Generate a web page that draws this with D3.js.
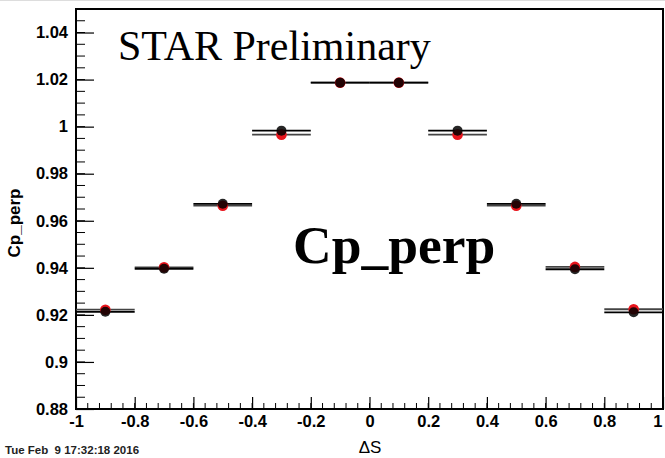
<!DOCTYPE html>
<html><head><meta charset="utf-8">
<script src="https://cdn.jsdelivr.net/npm/d3@7"></script>
<style>body{margin:0;background:#fff}svg{display:block}</style>
</head><body><svg id="c" width="665" height="458"></svg>
<script>
const binCenters = [-0.9,-0.7,-0.5,-0.3,-0.1,0.1,0.3,0.5,0.7,0.9];
const binHalfWidth = 0.1;
const redValues   = [0.9222,0.9402,0.9664,0.9966,1.0187,1.0187,0.9966,0.9664,0.9404,0.9224];
const blackValues = [0.9213,0.9396,0.9672,0.9983,1.0187,1.0187,0.9983,0.9672,0.9394,0.9211];
const xTicks = [-1,-0.8,-0.6,-0.4,-0.2,0,0.2,0.4,0.6,0.8,1];
const yTicks = [0.88,0.9,0.92,0.94,0.96,0.98,1,1.02,1.04];
const xDomain = [-1,1], yDomain = [0.88,1.05];

const svg = d3.select("#c");
const L=76,R=663,T=9,B=409;
const x = d3.scaleLinear().domain(xDomain).range([L,R]);
const y = d3.scaleLinear().domain(yDomain).range([B,T]);

svg.append("line").attr("x1",0).attr("x2",665).attr("y1",0.5).attr("y2",0.5).attr("stroke","#ddd");

const xMinor = d3.range(-1,1.0001,0.04);
const yMinor = d3.range(0.88,1.0501,0.005);
svg.append("g").selectAll("line").data(xMinor).join("line")
  .attr("x1",d=>x(d)).attr("x2",d=>x(d)).attr("y1",B).attr("y2",B-6).attr("stroke","#000").attr("stroke-width",1);
svg.append("g").selectAll("line").data(yMinor).join("line")
  .attr("x1",L).attr("x2",L+9).attr("y1",d=>y(d)).attr("y2",d=>y(d)).attr("stroke","#000").attr("stroke-width",1);

const fmt = d=> d===0?"0":String(+d.toFixed(2));
const xAxis = d3.axisBottom(x).tickValues(xTicks).tickSize(-12).tickPadding(4).tickFormat(fmt);
const gx = svg.append("g").attr("transform",`translate(0,${B})`).call(xAxis);
gx.select(".domain").remove();
gx.selectAll("line").attr("stroke","#000").attr("stroke-width",1.2);
gx.selectAll("text").attr("font-family","Liberation Sans, Arial, sans-serif").attr("font-weight","bold").attr("font-size",16.5).attr("fill","#000").attr("dy","0.85em")
  .attr("text-anchor",d=>d===1?"end":"middle").attr("dx",d=>d===1?"-1":"0");

const yAxis = d3.axisLeft(y).tickValues(yTicks).tickSize(-18).tickPadding(8).tickFormat(fmt);
const gy = svg.append("g").attr("transform",`translate(${L},0)`).call(yAxis);
gy.select(".domain").remove();
gy.selectAll("line").attr("stroke","#000").attr("stroke-width",1.2);
gy.selectAll("text").attr("font-family","Liberation Sans, Arial, sans-serif").attr("font-weight","bold").attr("font-size",16.5).attr("fill","#000");

svg.append("rect").attr("x",L).attr("y",T).attr("width",R-L).attr("height",B-T)
  .attr("fill","none").attr("stroke","#000").attr("stroke-width",2);

const eb = svg.append("g");
eb.selectAll("line.r").data(binCenters).join("line").attr("class","r")
  .attr("x1",(d)=>x(d-binHalfWidth)).attr("x2",d=>x(d+binHalfWidth))
  .attr("y1",(d,i)=>y(redValues[i])).attr("y2",(d,i)=>y(redValues[i]))
  .attr("stroke","#444").attr("stroke-width",1.8);
eb.selectAll("line.b").data(binCenters).join("line").attr("class","b")
  .attr("x1",(d)=>x(d-binHalfWidth)).attr("x2",d=>x(d+binHalfWidth))
  .attr("y1",(d,i)=>y(blackValues[i])).attr("y2",(d,i)=>y(blackValues[i]))
  .attr("stroke","#000").attr("stroke-width",1.8);

svg.append("g").selectAll("circle").data(binCenters).join("circle")
  .attr("cx",d=>x(d)).attr("cy",(d,i)=>y(redValues[i])).attr("r",5.3).attr("fill","#e8141c");
svg.append("g").selectAll("circle").data(binCenters).join("circle")
  .attr("cx",d=>x(d)).attr("cy",(d,i)=>y(blackValues[i])).attr("r",5).attr("fill","#000").attr("fill-opacity",0.85);

svg.append("text").attr("x",118).attr("y",60).attr("font-family","Liberation Serif, Times New Roman, serif")
  .attr("font-size",42).attr("fill","#000").text("STAR Preliminary");
svg.append("text").attr("x",293).attr("y",263).attr("font-family","Liberation Serif, Times New Roman, serif")
  .attr("font-weight","bold").attr("font-size",53.5).attr("fill","#000").text("Cp_perp");
svg.append("text").attr("transform","translate(20,223) rotate(-90)").attr("text-anchor","middle")
  .attr("font-family","Liberation Sans, Arial, sans-serif").attr("font-weight","bold").attr("font-size",17).text("Cp_perp");
svg.append("text").attr("x",370).attr("y",453).attr("text-anchor","middle")
  .attr("font-family","Liberation Sans, Arial, sans-serif").attr("font-size",17).text("ΔS");
svg.append("text").attr("x",5).attr("y",454)
  .attr("font-family","Liberation Sans, Arial, sans-serif").attr("font-weight","bold").attr("font-size",11.5).attr("fill","#222").style("white-space","pre").text("Tue Feb  9 17:32:18 2016");
</script></body></html>
